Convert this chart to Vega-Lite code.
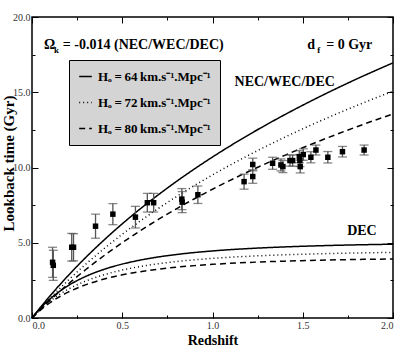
{
  "$schema": "https://vega.github.io/schema/vega-lite/v6.json",
  "width": 361,
  "height": 301,
  "autosize": {"type": "none"},
  "padding": {"left": 32, "top": 17, "right": 16, "bottom": 36},
  "background": "white",
  "datasets": {
    "curves": [
      {"z": 0, "t": 0, "H": "64", "b": "up"},
      {"z": 0.05, "t": 0.753, "H": "64", "b": "up"},
      {"z": 0.1, "t": 1.471, "H": "64", "b": "up"},
      {"z": 0.2, "t": 2.813, "H": "64", "b": "up"},
      {"z": 0.3, "t": 4.049, "H": "64", "b": "up"},
      {"z": 0.4, "t": 5.192, "H": "64", "b": "up"},
      {"z": 0.5, "t": 6.257, "H": "64", "b": "up"},
      {"z": 0.6, "t": 7.253, "H": "64", "b": "up"},
      {"z": 0.7, "t": 8.188, "H": "64", "b": "up"},
      {"z": 0.8, "t": 9.07, "H": "64", "b": "up"},
      {"z": 0.9, "t": 9.904, "H": "64", "b": "up"},
      {"z": 1.0, "t": 10.696, "H": "64", "b": "up"},
      {"z": 1.2, "t": 12.167, "H": "64", "b": "up"},
      {"z": 1.4, "t": 13.509, "H": "64", "b": "up"},
      {"z": 1.6, "t": 14.744, "H": "64", "b": "up"},
      {"z": 1.8, "t": 15.888, "H": "64", "b": "up"},
      {"z": 2.0, "t": 16.953, "H": "64", "b": "up"},
      {"z": 0, "t": 0, "H": "72", "b": "up"},
      {"z": 0.05, "t": 0.669, "H": "72", "b": "up"},
      {"z": 0.1, "t": 1.307, "H": "72", "b": "up"},
      {"z": 0.2, "t": 2.501, "H": "72", "b": "up"},
      {"z": 0.3, "t": 3.599, "H": "72", "b": "up"},
      {"z": 0.4, "t": 4.615, "H": "72", "b": "up"},
      {"z": 0.5, "t": 5.562, "H": "72", "b": "up"},
      {"z": 0.6, "t": 6.447, "H": "72", "b": "up"},
      {"z": 0.7, "t": 7.279, "H": "72", "b": "up"},
      {"z": 0.8, "t": 8.063, "H": "72", "b": "up"},
      {"z": 0.9, "t": 8.804, "H": "72", "b": "up"},
      {"z": 1.0, "t": 9.508, "H": "72", "b": "up"},
      {"z": 1.2, "t": 10.815, "H": "72", "b": "up"},
      {"z": 1.4, "t": 12.009, "H": "72", "b": "up"},
      {"z": 1.6, "t": 13.107, "H": "72", "b": "up"},
      {"z": 1.8, "t": 14.123, "H": "72", "b": "up"},
      {"z": 2.0, "t": 15.07, "H": "72", "b": "up"},
      {"z": 0, "t": 0, "H": "80", "b": "up"},
      {"z": 0.05, "t": 0.602, "H": "80", "b": "up"},
      {"z": 0.1, "t": 1.177, "H": "80", "b": "up"},
      {"z": 0.2, "t": 2.251, "H": "80", "b": "up"},
      {"z": 0.3, "t": 3.239, "H": "80", "b": "up"},
      {"z": 0.4, "t": 4.154, "H": "80", "b": "up"},
      {"z": 0.5, "t": 5.006, "H": "80", "b": "up"},
      {"z": 0.6, "t": 5.802, "H": "80", "b": "up"},
      {"z": 0.7, "t": 6.551, "H": "80", "b": "up"},
      {"z": 0.8, "t": 7.256, "H": "80", "b": "up"},
      {"z": 0.9, "t": 7.924, "H": "80", "b": "up"},
      {"z": 1.0, "t": 8.557, "H": "80", "b": "up"},
      {"z": 1.2, "t": 9.733, "H": "80", "b": "up"},
      {"z": 1.4, "t": 10.808, "H": "80", "b": "up"},
      {"z": 1.6, "t": 11.796, "H": "80", "b": "up"},
      {"z": 1.8, "t": 12.711, "H": "80", "b": "up"},
      {"z": 2.0, "t": 13.562, "H": "80", "b": "up"},
      {"z": 0, "t": 0, "H": "64", "b": "low"},
      {"z": 0.025, "t": 0.364, "H": "64", "b": "low"},
      {"z": 0.05, "t": 0.693, "H": "64", "b": "low"},
      {"z": 0.1, "t": 1.267, "H": "64", "b": "low"},
      {"z": 0.15, "t": 1.744, "H": "64", "b": "low"},
      {"z": 0.2, "t": 2.146, "H": "64", "b": "low"},
      {"z": 0.3, "t": 2.775, "H": "64", "b": "low"},
      {"z": 0.4, "t": 3.237, "H": "64", "b": "low"},
      {"z": 0.5, "t": 3.584, "H": "64", "b": "low"},
      {"z": 0.6, "t": 3.849, "H": "64", "b": "low"},
      {"z": 0.7, "t": 4.056, "H": "64", "b": "low"},
      {"z": 0.8, "t": 4.219, "H": "64", "b": "low"},
      {"z": 0.9, "t": 4.35, "H": "64", "b": "low"},
      {"z": 1.0, "t": 4.456, "H": "64", "b": "low"},
      {"z": 1.2, "t": 4.614, "H": "64", "b": "low"},
      {"z": 1.4, "t": 4.724, "H": "64", "b": "low"},
      {"z": 1.6, "t": 4.803, "H": "64", "b": "low"},
      {"z": 1.8, "t": 4.861, "H": "64", "b": "low"},
      {"z": 2.0, "t": 4.904, "H": "64", "b": "low"},
      {"z": 0, "t": 0, "H": "72", "b": "low"},
      {"z": 0.025, "t": 0.323, "H": "72", "b": "low"},
      {"z": 0.05, "t": 0.616, "H": "72", "b": "low"},
      {"z": 0.1, "t": 1.126, "H": "72", "b": "low"},
      {"z": 0.15, "t": 1.55, "H": "72", "b": "low"},
      {"z": 0.2, "t": 1.907, "H": "72", "b": "low"},
      {"z": 0.3, "t": 2.466, "H": "72", "b": "low"},
      {"z": 0.4, "t": 2.877, "H": "72", "b": "low"},
      {"z": 0.5, "t": 3.186, "H": "72", "b": "low"},
      {"z": 0.6, "t": 3.422, "H": "72", "b": "low"},
      {"z": 0.7, "t": 3.606, "H": "72", "b": "low"},
      {"z": 0.8, "t": 3.751, "H": "72", "b": "low"},
      {"z": 0.9, "t": 3.867, "H": "72", "b": "low"},
      {"z": 1.0, "t": 3.961, "H": "72", "b": "low"},
      {"z": 1.2, "t": 4.102, "H": "72", "b": "low"},
      {"z": 1.4, "t": 4.2, "H": "72", "b": "low"},
      {"z": 1.6, "t": 4.269, "H": "72", "b": "low"},
      {"z": 1.8, "t": 4.321, "H": "72", "b": "low"},
      {"z": 2.0, "t": 4.359, "H": "72", "b": "low"},
      {"z": 0, "t": 0, "H": "80", "b": "low"},
      {"z": 0.025, "t": 0.291, "H": "80", "b": "low"},
      {"z": 0.05, "t": 0.555, "H": "80", "b": "low"},
      {"z": 0.1, "t": 1.013, "H": "80", "b": "low"},
      {"z": 0.15, "t": 1.395, "H": "80", "b": "low"},
      {"z": 0.2, "t": 1.716, "H": "80", "b": "low"},
      {"z": 0.3, "t": 2.22, "H": "80", "b": "low"},
      {"z": 0.4, "t": 2.589, "H": "80", "b": "low"},
      {"z": 0.5, "t": 2.867, "H": "80", "b": "low"},
      {"z": 0.6, "t": 3.08, "H": "80", "b": "low"},
      {"z": 0.7, "t": 3.245, "H": "80", "b": "low"},
      {"z": 0.8, "t": 3.376, "H": "80", "b": "low"},
      {"z": 0.9, "t": 3.48, "H": "80", "b": "low"},
      {"z": 1.0, "t": 3.565, "H": "80", "b": "low"},
      {"z": 1.2, "t": 3.692, "H": "80", "b": "low"},
      {"z": 1.4, "t": 3.779, "H": "80", "b": "low"},
      {"z": 1.6, "t": 3.842, "H": "80", "b": "low"},
      {"z": 1.8, "t": 3.889, "H": "80", "b": "low"},
      {"z": 2.0, "t": 3.923, "H": "80", "b": "low"}
    ],
    "obs": [
      {"z": 0.114, "t": 3.7, "e": 1.0},
      {"z": 0.118, "t": 3.5, "e": 1.0},
      {"z": 0.22, "t": 4.7, "e": 0.92},
      {"z": 0.23, "t": 4.7, "e": 0.9},
      {"z": 0.352, "t": 6.1, "e": 0.8},
      {"z": 0.448, "t": 6.9, "e": 0.7},
      {"z": 0.573, "t": 6.7, "e": 0.72},
      {"z": 0.639, "t": 7.66, "e": 0.62},
      {"z": 0.674, "t": 7.66, "e": 0.62},
      {"z": 0.83, "t": 7.9, "e": 0.7},
      {"z": 0.832, "t": 7.7, "e": 0.7},
      {"z": 0.919, "t": 8.19, "e": 0.58},
      {"z": 1.175, "t": 9.06, "e": 0.5},
      {"z": 1.223, "t": 9.4, "e": 0.45},
      {"z": 1.223, "t": 10.2, "e": 0.42},
      {"z": 1.333, "t": 10.28, "e": 0.4},
      {"z": 1.379, "t": 10.17, "e": 0.4},
      {"z": 1.39, "t": 10.06, "e": 0.4},
      {"z": 1.429, "t": 10.46, "e": 0.37},
      {"z": 1.444, "t": 10.46, "e": 0.37},
      {"z": 1.481, "t": 10.72, "e": 0.4},
      {"z": 1.484, "t": 10.46, "e": 0.4},
      {"z": 1.486, "t": 10.06, "e": 0.42},
      {"z": 1.503, "t": 10.86, "e": 0.38},
      {"z": 1.545, "t": 10.68, "e": 0.37},
      {"z": 1.573, "t": 11.16, "e": 0.33},
      {"z": 1.639, "t": 10.68, "e": 0.38},
      {"z": 1.72, "t": 11.05, "e": 0.35},
      {"z": 1.84, "t": 11.16, "e": 0.33}
    ],
    "big": [
      {"x": 0.066, "y": 18.14, "s": "Ω"},
      {"x": 0.171, "y": 18.14, "s": "= -0.014 (NEC/WEC/DEC)"},
      {"x": 1.525, "y": 18.14, "s": "d"},
      {"x": 1.63, "y": 18.14, "s": "= 0 Gyr"},
      {"x": 1.122, "y": 15.68, "s": "NEC/WEC/DEC"},
      {"x": 1.746, "y": 5.78, "s": "DEC"}
    ],
    "small": [
      {"x": 0.122, "y": 18.14, "s": "k"},
      {"x": 1.58, "y": 18.14, "s": "f"}
    ]
  },
  "layer": [
    {
      "data": {"name": "curves"},
      "mark": {"type": "line", "color": "black", "strokeWidth": 1.5, "interpolate": "monotone"},
      "encoding": {
        "x": {
          "field": "z", "type": "quantitative",
          "scale": {"domain": [0, 2], "nice": false, "zero": false},
          "axis": {
            "orient": "bottom",
            "title": "Redshift",
            "titleFontSize": 14,
            "titleBaseline": "middle",
            "titleY": 22,
            "values": [0, 0.25, 0.5, 0.75, 1, 1.25, 1.5, 1.75, 2],
            "labelExpr": "datum.value % 0.5 === 0 ? format(datum.value, '.1f') : ''",
            "tickSize": {"condition": {"test": "datum.value % 0.5 === 0", "value": -6}, "value": -3},
            "labelPadding": 8
          }
        },
        "y": {
          "field": "t", "type": "quantitative",
          "scale": {"domain": [0, 20], "nice": false},
          "axis": {
            "orient": "left",
            "title": "Lookback time (Gyr)",
            "titleFontSize": 15,
            "titleBaseline": "middle",
            "titleAngle": -90,
            "titleX": -24,
            "titleY": 146,
            "values": [0, 2.5, 5, 7.5, 10, 12.5, 15, 17.5, 20],
            "labelExpr": "datum.value % 5 === 0 ? format(datum.value, '.1f') : ''",
            "tickSize": {"condition": {"test": "datum.value % 5 === 0", "value": -6}, "value": -3},
            "labelPadding": 8
          }
        },
        "strokeDash": {
          "field": "H", "type": "nominal",
          "scale": {"domain": ["64", "72", "80"], "range": [[1, 0], [1, 3], [6, 4]]},
          "legend": {
            "orient": "none",
            "legendX": 37,
            "legendY": 43,
            "title": null,
            "fillColor": "#d4d4d4",
            "strokeColor": "black",
            "padding": 9,
            "symbolType": "stroke",
            "symbolSize": 160,
            "symbolStrokeWidth": 1.5,
            "symbolStrokeColor": "black",
            "labelFont": "Liberation Serif, Times New Roman, serif",
            "labelFontSize": 13,
            "labelFontWeight": "bold",
            "labelColor": "black",
            "labelOffset": 5,
            "rowPadding": 11,
            "labelExpr": "'Hₒ\u2009=\u2009' + datum.label + '\u2009km.s⁻¹.Mpc⁻¹'"
          }
        },
        "detail": {"field": "b", "type": "nominal"}
      }
    },
    {
      "data": {"name": "obs"},
      "mark": {"type": "errorbar", "ticks": {"size": 9}, "color": "#555", "thickness": 1.3},
      "encoding": {
        "x": {"field": "z", "type": "quantitative", "axis": null},
        "y": {"field": "t", "type": "quantitative", "axis": null},
        "yError": {"field": "e"}
      }
    },
    {
      "data": {"name": "obs"},
      "mark": {"type": "square", "filled": true, "color": "black", "size": 30, "opacity": 1},
      "encoding": {
        "x": {"field": "z", "type": "quantitative", "axis": null},
        "y": {"field": "t", "type": "quantitative", "axis": null}
      }
    },
    {
      "data": {"name": "big"},
      "mark": {"type": "text", "font": "Liberation Serif, Times New Roman, serif", "fontSize": 14, "fontWeight": "bold", "align": "left", "baseline": "middle", "color": "black"},
      "encoding": {
        "x": {
          "field": "x", "type": "quantitative",
          "axis": {
            "orient": "top", "title": null, "labels": false,
            "values": [0, 0.25, 0.5, 0.75, 1, 1.25, 1.5, 1.75, 2],
            "tickSize": {"condition": {"test": "datum.value % 0.5 === 0", "value": -6}, "value": -3}
          }
        },
        "y": {
          "field": "y", "type": "quantitative",
          "axis": {
            "orient": "right", "title": null, "labels": false,
            "values": [0, 2.5, 5, 7.5, 10, 12.5, 15, 17.5, 20],
            "tickSize": {"condition": {"test": "datum.value % 5 === 0", "value": -6}, "value": -3}
          }
        },
        "text": {"field": "s"}
      }
    },
    {
      "data": {"name": "small"},
      "mark": {"type": "text", "font": "Liberation Serif, Times New Roman, serif", "fontSize": 9, "fontWeight": "bold", "align": "left", "baseline": "middle", "dy": 5, "color": "black"},
      "encoding": {
        "x": {"field": "x", "type": "quantitative", "axis": null},
        "y": {"field": "y", "type": "quantitative", "axis": null},
        "text": {"field": "s"}
      }
    }
  ],
  "resolve": {"axis": {"x": "independent", "y": "independent"}},
  "config": {
    "view": {"stroke": "black", "strokeWidth": 1.5},
    "axis": {
      "domain": false,
      "grid": false,
      "labelFont": "Liberation Serif, Times New Roman, serif",
      "labelFontSize": 10,
      "labelColor": "#333",
      "tickColor": "black",
      "tickWidth": 1,
      "titleFont": "Liberation Serif, Times New Roman, serif",
      "titleFontWeight": "bold",
      "titleColor": "black"
    }
  }
}
